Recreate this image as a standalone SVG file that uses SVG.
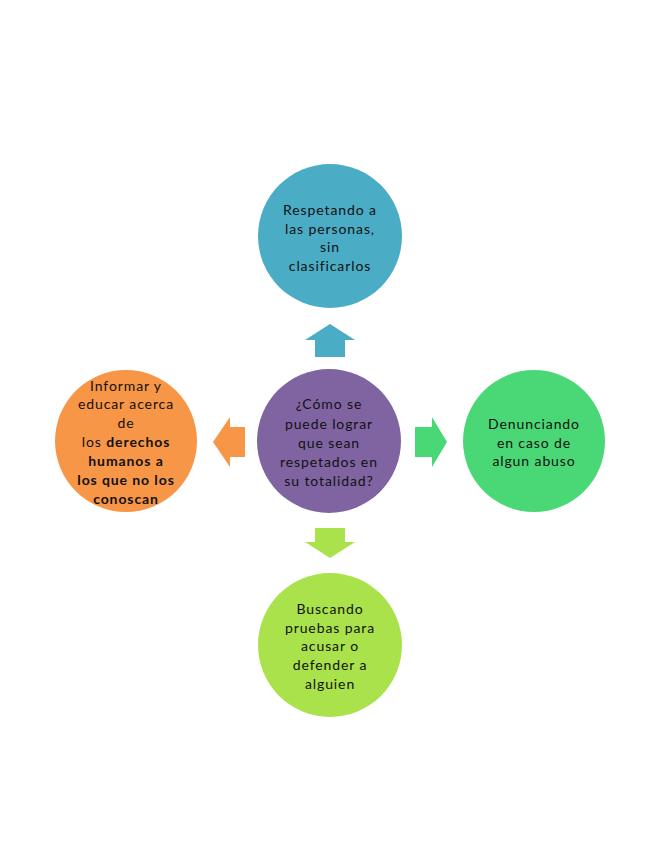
<svg xmlns="http://www.w3.org/2000/svg" width="655" height="848" viewBox="0 0 655 848">
<style>
text{font-family:Lato,"Open Sans","Liberation Sans",sans-serif;font-size:14px;letter-spacing:0.9px;fill:#111;text-anchor:middle}
.b{font-weight:bold}
</style>
<rect width="655" height="848" fill="#fff"/>
<g id="connectors">
<polygon points="315,357 315,340 305,340 330,324 355,340 345,340 345,357" fill="#4BACC6"/>
<polygon points="315,528 345,528 345,542 355,542 330,558 305,542 315,542" fill="#A9E24A"/>
<polygon points="245,427 245,457 230,457 230,467 213,442 230,417 230,427" fill="#F79646"/>
<polygon points="415,427 432,427 432,417 447,442 432,467 432,457 415,457" fill="#4AD876"/>
</g>
<g id="top">
<circle cx="330" cy="236" r="72" fill="#4BACC6"/>
<text x="330" y="215">Respetando a</text>
<text x="330" y="234">las personas,</text>
<text x="330" y="252">sin</text>
<text x="330" y="271">clasificarlos</text>
</g>
<g id="center">
<circle cx="329" cy="441" r="72" fill="#8064A2"/>
<text x="329" y="409">¿Cómo se</text>
<text x="329" y="429">puede lograr</text>
<text x="329" y="448">que sean</text>
<text x="329" y="467">respetados en</text>
<text x="329" y="486">su totalidad?</text>
</g>
<g id="left">
<circle cx="126" cy="441" r="71" fill="#F79646"/>
<text x="126" y="391">Informar y</text>
<text x="126" y="409">educar acerca</text>
<text x="126" y="428">de</text>
<text x="126" y="447">los <tspan class="b">derechos</tspan></text>
<text x="126" y="466" class="b">humanos a</text>
<text x="126" y="485" class="b">los que no los</text>
<text x="126" y="504" class="b">conoscan</text>
</g>
<g id="right">
<circle cx="534" cy="441" r="71" fill="#4AD876"/>
<text x="534" y="429">Denunciando</text>
<text x="534" y="448">en caso de</text>
<text x="534" y="466">algun abuso</text>
</g>
<g id="bottom">
<circle cx="330" cy="645" r="72" fill="#A9E24A"/>
<text x="330" y="614">Buscando</text>
<text x="330" y="633">pruebas para</text>
<text x="330" y="651">acusar o</text>
<text x="330" y="670">defender a</text>
<text x="330" y="689">alguien</text>
</g>
</svg>
